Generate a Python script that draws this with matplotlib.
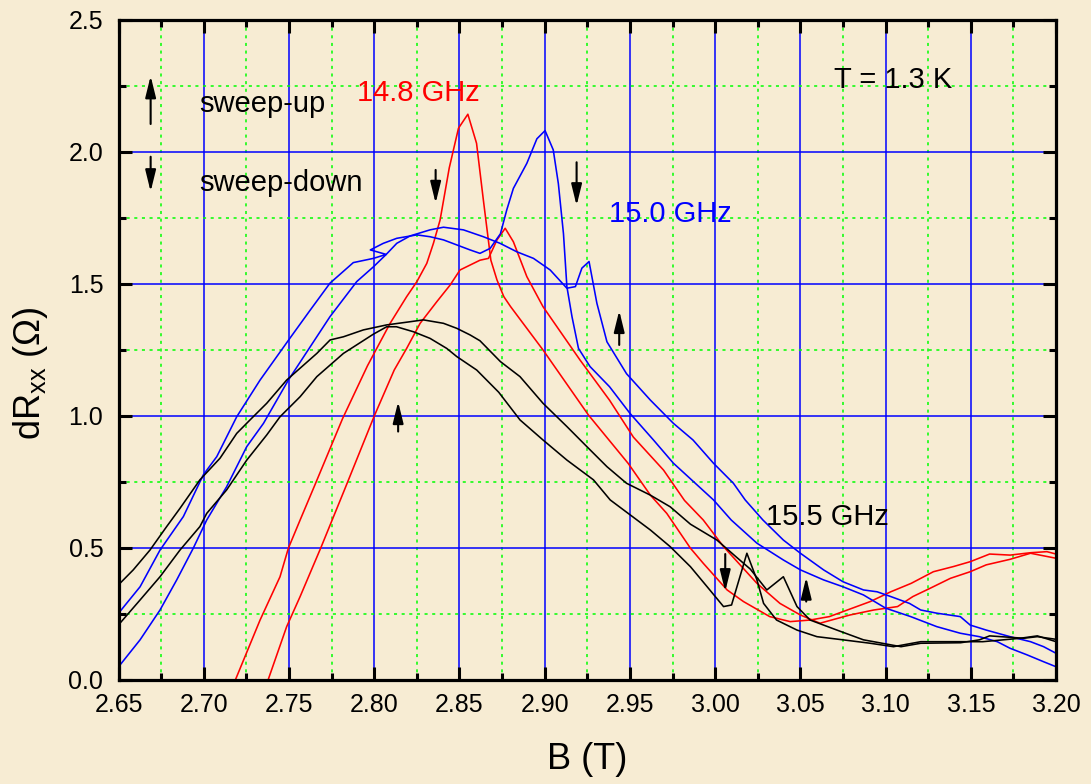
import matplotlib
matplotlib.use("Agg")
import matplotlib.pyplot as plt
from matplotlib.ticker import MultipleLocator, FormatStrFormatter

plt.rcParams['font.family'] = ['Liberation Sans', 'DejaVu Sans']
plt.rcParams['mathtext.default'] = 'regular'

# 14.8 GHz, sweep-down (sharp peak) and sweep-up
b148_dn = [2.7185, 2.733, 2.7447, 2.7496, 2.7565, 2.7646, 2.7814, 2.796, 2.8093, 2.819,
           2.825, 2.8308, 2.8347, 2.8386, 2.844, 2.8494, 2.8549, 2.860, 2.864, 2.8684,
           2.872, 2.876, 2.880, 2.899, 2.9256, 2.949, 2.962, 2.9716, 2.9855, 2.993,
           3.007, 3.0166, 3.032, 3.044, 3.0557, 3.067, 3.083, 3.091, 3.103, 3.115,
           3.128, 3.14, 3.1496, 3.161, 3.173, 3.185, 3.1946, 3.2]
r148_dn = [0.0, 0.227, 0.391, 0.499, 0.606, 0.73, 0.99, 1.19, 1.351, 1.452,
           1.509, 1.578, 1.654, 1.742, 1.94, 2.09, 2.143, 2.033, 1.818, 1.59,
           1.515, 1.452, 1.414, 1.25, 1.004, 0.82, 0.70, 0.631, 0.499, 0.442,
           0.341, 0.297, 0.24, 0.221, 0.227, 0.24, 0.278, 0.297, 0.334, 0.366,
           0.41, 0.43, 0.448, 0.477, 0.473, 0.482, 0.486, 0.477]

b148_up = [2.7377, 2.7486, 2.7565, 2.7686, 2.7825, 2.80, 2.8117, 2.819, 2.8269, 2.8367,
           2.8445, 2.8503, 2.862, 2.867, 2.872, 2.8768, 2.8816, 2.8895, 2.899, 2.9207,
           2.938, 2.952, 2.9697, 2.982, 2.993, 3.0049, 3.0245, 3.038, 3.05, 3.0615,
           3.079, 3.093, 3.107, 3.116, 3.126, 3.138, 3.1496, 3.159, 3.173, 3.185, 3.2]
r148_up = [0.0, 0.202, 0.316, 0.5, 0.72, 1.0, 1.174, 1.256, 1.351, 1.433,
           1.496, 1.553, 1.59, 1.597, 1.667, 1.711, 1.66, 1.528, 1.414, 1.212,
           1.06, 0.92, 0.795, 0.68, 0.606, 0.505, 0.366, 0.29, 0.246, 0.215,
           0.246, 0.265, 0.278, 0.316, 0.347, 0.385, 0.41, 0.436, 0.457, 0.48, 0.461]

# 15.0 GHz
b150_dn = [2.65, 2.6626, 2.6743, 2.688, 2.6997, 2.7076, 2.7193, 2.733, 2.75, 2.7623,
           2.774, 2.7877, 2.7995, 2.807, 2.7977, 2.8053, 2.8132, 2.825, 2.8327, 2.8406,
           2.8484, 2.8562, 2.862, 2.868, 2.874, 2.8777, 2.8816, 2.8895, 2.8954, 2.9002,
           2.905, 2.908, 2.911, 2.913, 2.916, 2.9198, 2.9266, 2.938, 2.95, 2.9638,
           2.9755, 2.999, 3.0094, 3.0245, 3.04, 3.05, 3.0636, 3.075, 3.087, 3.1,
           3.1147, 3.13, 3.1438, 3.155, 3.1655, 3.173, 3.183, 3.1927, 3.2]
r150_dn = [0.253, 0.353, 0.492, 0.619, 0.777, 0.846, 0.997, 1.136, 1.29, 1.40,
           1.503, 1.581, 1.597, 1.612, 1.629, 1.654, 1.673, 1.686, 1.679, 1.667,
           1.648, 1.629, 1.616, 1.635, 1.69, 1.78, 1.862, 1.957, 2.05, 2.081,
           2.008, 1.88, 1.69, 1.49, 1.376, 1.256, 1.187, 1.111, 1.01, 0.909,
           0.821, 0.682, 0.606, 0.518, 0.4545, 0.417, 0.379, 0.353, 0.322, 0.272,
           0.24, 0.202, 0.177, 0.164, 0.145, 0.12, 0.095, 0.069, 0.05]

b150_up = [2.65, 2.6626, 2.6743, 2.6841, 2.6938, 2.7017, 2.7134, 2.7252, 2.735, 2.7496,
           2.774, 2.7897, 2.7995, 2.807, 2.8132, 2.821, 2.8327, 2.8406, 2.8523, 2.864,
           2.8738, 2.8836, 2.8934, 2.9032, 2.913, 2.918, 2.9218, 2.926, 2.9306, 2.9365,
           2.948, 2.962, 2.9755, 2.987, 2.999, 3.0107, 3.0176, 3.028, 3.04, 3.05,
           3.0636, 3.075, 3.087, 3.095, 3.103, 3.114, 3.1206, 3.13, 3.1438, 3.1496,
           3.159, 3.173, 3.185, 3.1927, 3.2]
r150_up = [0.05, 0.152, 0.265, 0.379, 0.499, 0.606, 0.732, 0.884, 0.972, 1.136,
           1.376, 1.509, 1.565, 1.612, 1.654, 1.682, 1.705, 1.715, 1.705, 1.679,
           1.654, 1.622, 1.597, 1.553, 1.484, 1.49, 1.56, 1.585, 1.427, 1.281,
           1.16, 1.06, 0.972, 0.909, 0.821, 0.745, 0.682, 0.606, 0.53, 0.48,
           0.417, 0.372, 0.341, 0.334, 0.316, 0.29, 0.265, 0.253, 0.24, 0.208,
           0.189, 0.164, 0.145, 0.126, 0.101]

# 15.5 GHz
b155_dn = [2.6508, 2.6626, 2.6743, 2.686, 2.6977, 2.7017, 2.7134, 2.7252, 2.7369, 2.7447,
           2.7565, 2.7663, 2.7819, 2.7995, 2.8073, 2.813, 2.823, 2.8327, 2.8425, 2.8484,
           2.8601, 2.873, 2.8855, 2.899, 2.913, 2.9286, 2.9384, 2.962, 2.9736, 2.9855,
           2.9953, 3.0049, 3.0096, 3.0186, 3.0245, 3.0284, 3.036, 3.048, 3.0597, 3.075,
           3.091, 3.1046, 3.1206, 3.1457, 3.157, 3.169, 3.179, 3.189, 3.2]
r155_dn = [0.215, 0.303, 0.391, 0.492, 0.581, 0.631, 0.72, 0.833, 0.928, 0.997,
           1.073, 1.149, 1.237, 1.31, 1.338, 1.338, 1.319, 1.294, 1.256, 1.225,
           1.174, 1.09, 0.985, 0.909, 0.833, 0.758, 0.682, 0.568, 0.505, 0.429,
           0.353, 0.278, 0.284, 0.48, 0.379, 0.29, 0.227, 0.189, 0.164, 0.152,
           0.139, 0.126, 0.145, 0.145, 0.145, 0.152, 0.158, 0.167, 0.145]

b155_up = [2.6508, 2.6586, 2.6684, 2.6782, 2.686, 2.6977, 2.7095, 2.7193, 2.7271, 2.7369,
           2.7486, 2.7663, 2.7741, 2.7819, 2.7936, 2.8073, 2.821, 2.8288, 2.8406, 2.8484,
           2.8562, 2.862, 2.874, 2.8855, 2.899, 2.913, 2.9247, 2.9365, 2.948, 2.962,
           2.9736, 2.9855, 3.001, 3.0127, 3.0206, 3.0303, 3.04, 3.048, 3.0557, 3.0714,
           3.087, 3.109, 3.1206, 3.144, 3.155, 3.161, 3.181, 3.189, 3.2]
r155_up = [0.366, 0.417, 0.492, 0.581, 0.65, 0.758, 0.84, 0.934, 0.985, 1.048,
           1.136, 1.237, 1.288, 1.3, 1.326, 1.345, 1.357, 1.364, 1.351, 1.332,
           1.307, 1.285, 1.206, 1.149, 1.048, 0.96, 0.884, 0.808, 0.745, 0.70,
           0.656, 0.59, 0.53, 0.464, 0.42, 0.341, 0.391, 0.278, 0.227, 0.189,
           0.152, 0.126, 0.139, 0.141, 0.152, 0.167, 0.158, 0.164, 0.154]

# sweep-direction arrows: (x, y_tail, y_head)
sweep_arrows = [(2.836, 1.932, 1.806), (2.9187, 1.961, 1.797), (2.9437, 1.269, 1.399),
                (2.814, 0.941, 1.054), (3.0059, 0.477, 0.335), (3.0534, 0.297, 0.389)]

bg = '#F7ECD3'
fig = plt.figure(figsize=(10.91, 7.84), dpi=100, facecolor=bg)
ax = fig.add_axes([0.1087, 0.1327, 0.8593, 0.8418], facecolor=bg)

lw = 1.15
ax.plot(b148_dn, r148_dn, color='red', lw=lw)
ax.plot(b148_up, r148_up, color='red', lw=lw)
ax.plot(b150_dn, r150_dn, color='blue', lw=lw)
ax.plot(b150_up, r150_up, color='blue', lw=lw)
ax.plot(b155_dn, r155_dn, color='black', lw=lw)
ax.plot(b155_up, r155_up, color='black', lw=lw)

ax.set_xlim(2.65, 3.20)
ax.set_ylim(0.0, 2.5)
ax.xaxis.set_major_locator(MultipleLocator(0.05))
ax.xaxis.set_minor_locator(MultipleLocator(0.025))
ax.yaxis.set_major_locator(MultipleLocator(0.5))
ax.yaxis.set_minor_locator(MultipleLocator(0.25))
ax.xaxis.set_major_formatter(FormatStrFormatter('%.2f'))
ax.yaxis.set_major_formatter(FormatStrFormatter('%.1f'))

ax.grid(which='major', color='blue', lw=1.1, ls='-')
ax.grid(which='minor', color='#00FF00', lw=1.1, ls=(0, (2, 3)))
ax.set_axisbelow(True)

for s in ax.spines.values():
    s.set_linewidth(2.3)
ax.tick_params(which='both', direction='in', top=True, right=True, width=2.2, labelsize=18)
ax.tick_params(which='major', length=9.5)
ax.tick_params(which='minor', length=5)
ax.tick_params(axis='y', which='major', pad=11)
ax.tick_params(axis='x', which='major', pad=9.5)

ax.set_xlabel('B (T)', fontsize=26)
ax.set_ylabel('dR$_{xx}$ (Ω)', fontsize=26)
ax.xaxis.set_label_coords(0.5, -0.094)
ax.yaxis.set_label_coords(-0.073, 0.465)

# legend for sweep direction
arr_big = dict(arrowstyle='-|>,head_length=1.3,head_width=0.32', color='black',
               lw=1.5, mutation_scale=10, shrinkA=0, shrinkB=0)
ax.annotate('', xy=(2.6688, 2.288), xytext=(2.6688, 2.106), arrowprops=arr_big)
ax.annotate('', xy=(2.6688, 1.85), xytext=(2.6688, 1.982), arrowprops=arr_big)
ax.text(2.6972, 2.152, 'sweep-up', fontsize=21, va='baseline')
ax.text(2.6972, 1.853, 'sweep-down', fontsize=21, va='baseline')

for xa, y0, y1 in sweep_arrows:
    ax.annotate('', xy=(xa, y1), xytext=(xa, y0), arrowprops=arr_big)

ax.text(2.7897, 2.194, '14.8 GHz', color='red', fontsize=21, va='baseline')
ax.text(2.938, 1.736, '15.0 GHz', color='blue', fontsize=21, va='baseline')
ax.text(3.0297, 0.587, '15.5 GHz', color='black', fontsize=21, va='baseline')
ax.text(3.0696, 2.241, 'T = 1.3 K', color='black', fontsize=21, va='baseline')

fig.savefig('out.png', dpi=100, facecolor=bg)
